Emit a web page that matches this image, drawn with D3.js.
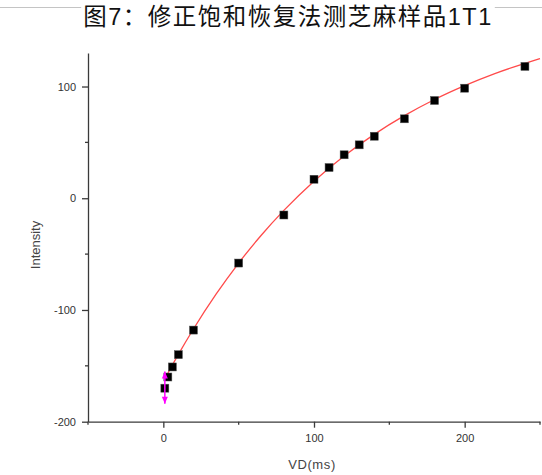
<!DOCTYPE html>
<html>
<head>
<meta charset="utf-8">
<script src="https://cdn.jsdelivr.net/npm/d3@7"></script>
<style>
  html, body { margin: 0; padding: 0; background: #fff; }
  svg { display: block; }
</style>
</head>
<body>
<script>
// Measured recovery data: delay time (ms) vs. signal intensity
const delays = [1, 3, 6, 10, 20, 50, 80, 100, 110, 120, 130, 140, 160, 180, 200, 240];
const intensities = [-170, -160, -151, -140, -118, -58, -15, 17, 27.5, 38.9, 47.8, 55.5, 71.1, 87.5, 98.5, 118];

// Fitted recovery curve, sampled
const fitX = [1, 5, 10, 20, 35, 50, 65, 80, 100, 120, 140, 160, 180, 200, 220, 240, 250];
const fitY = [-161.7, -151.7, -139.7, -117.0, -85.9, -58.0, -33.1, -10.9, 15.3, 37.8, 57.2, 73.9, 88.4, 100.8, 111.6, 120.8, 125.0];

// Error bar on the first point
const errX = 1;
const errLow = -184;
const errHigh = -155;

const xMajor = [0, 100, 200];
const xMinor = [-50, 50, 150, 250];
const yMajor = [-200, -100, 0, 100];
const yMinor = [-150, -50, 50];

const titleText = "图7：修正饱和恢复法测芝麻样品1T1";
const xLabel = "VD(ms)";
const yLabel = "Intensity";

const W = 542, H = 475;
const svg = d3.select("body").append("svg").attr("width", W).attr("height", H);

const x = d3.scaleLinear().domain([-50, 250]).range([88, 540]);
const y = d3.scaleLinear().domain([-200, 130]).range([421.7, 53]);

const axisColor = "#3a3a3a";
const labelFont = "'Liberation Sans', Arial, sans-serif";
const fmt = d => String(d);

// Header rule with the title on a white band
svg.append("line").attr("x1", 0).attr("x2", W).attr("y1", 7.5).attr("y2", 7.5)
  .attr("stroke", "#c4c4c4").attr("stroke-width", 1);
const title = svg.append("text")
  .attr("x", 288).attr("y", 25)
  .attr("text-anchor", "middle")
  .attr("font-family", "'Liberation Sans', 'Noto Sans CJK SC', sans-serif")
  .attr("font-size", 23.5).attr("fill", "#111")
  .attr("letter-spacing", 1.5)
  .text(titleText);
const tb = title.node().getBBox();
svg.insert("rect", "text").attr("x", tb.x - 2).attr("y", 0).attr("width", tb.width + 4).attr("height", 28).attr("fill", "#fff");

// Axes
const gx = svg.append("g").attr("transform", `translate(0,${y(-200)})`)
  .call(d3.axisBottom(x).tickValues(xMajor).tickSize(6).tickSizeOuter(0).tickFormat(fmt));
const gy = svg.append("g").attr("transform", `translate(${x(-50)},0)`)
  .call(d3.axisLeft(y).tickValues(yMajor).tickSize(6).tickSizeOuter(0).tickFormat(fmt));

[gx, gy].forEach(g => {
  g.select(".domain").attr("stroke", axisColor).attr("stroke-width", 1.3);
  g.selectAll(".tick line").attr("stroke", axisColor).attr("stroke-width", 1.3);
  g.selectAll(".tick text").attr("font-family", labelFont).attr("font-size", 11).attr("fill", "#333");
});
gx.selectAll(".tick text").attr("dy", "1.05em");
gy.selectAll(".tick text").attr("x", -12);

// Minor ticks
gx.selectAll(".minor").data(xMinor).enter().append("line")
  .attr("x1", d => x(d)).attr("x2", d => x(d)).attr("y1", 0).attr("y2", 3)
  .attr("stroke", axisColor).attr("stroke-width", 1.3);
gy.selectAll(".minor").data(yMinor).enter().append("line")
  .attr("y1", d => y(d)).attr("y2", d => y(d)).attr("x1", 0).attr("x2", -3)
  .attr("stroke", axisColor).attr("stroke-width", 1.3);

// Axis titles
svg.append("text").attr("x", 312).attr("y", 469).attr("text-anchor", "middle")
  .attr("font-family", labelFont).attr("font-size", 13).attr("fill", "#444")
  .attr("letter-spacing", 0.6).text(xLabel);
svg.append("text").attr("transform", `translate(40,245) rotate(-90)`).attr("text-anchor", "middle")
  .attr("font-family", labelFont).attr("font-size", 13).attr("fill", "#444")
  .text(yLabel);

// Fit curve
const fitPts = fitX.map((v, i) => [v, fitY[i]]);
svg.append("path").datum(fitPts)
  .attr("d", d3.line().x(d => x(d[0])).y(d => y(d[1])).curve(d3.curveMonotoneX))
  .attr("fill", "none").attr("stroke", "#ff4a4a").attr("stroke-width", 1.3);

// Data squares
const pts = delays.map((v, i) => [v, intensities[i]]);
const s = 8;
svg.append("g").selectAll("rect").data(pts).enter().append("rect")
  .attr("x", d => x(d[0]) - s / 2).attr("y", d => y(d[1]) - s / 2)
  .attr("width", s).attr("height", s)
  .attr("fill", "#000").attr("stroke", "#555").attr("stroke-width", 0.5);

// Error bar with arrow ends
const ex = x(errX);
svg.append("line").attr("x1", ex).attr("x2", ex).attr("y1", y(errHigh)).attr("y2", y(errLow))
  .attr("stroke", "#ff00ff").attr("stroke-width", 1.5);
svg.append("path")
  .attr("d", `M${ex - 3},${y(errLow) - 7} L${ex + 3},${y(errLow) - 7} L${ex},${y(errLow)} Z`)
  .attr("fill", "#ff00ff");
svg.append("path")
  .attr("d", `M${ex - 3},${y(errHigh) + 7} L${ex + 3},${y(errHigh) + 7} L${ex},${y(errHigh)} Z`)
  .attr("fill", "#ff00ff");
</script>
</body>
</html>
